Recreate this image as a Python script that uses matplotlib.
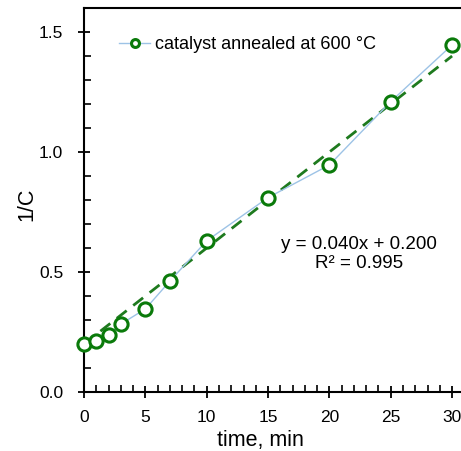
import matplotlib.pyplot as plt
from matplotlib.ticker import MultipleLocator

plt.rcParams['font.family'] = ['Liberation Sans', 'DejaVu Sans']

# measured points
time_min = [0, 1, 2, 3, 5, 7, 10, 15, 20, 25, 30]
inv_c = [0.200, 0.212, 0.237, 0.283, 0.346, 0.462, 0.630, 0.810, 0.946, 1.210, 1.446]

# linear fit shown on the chart
slope = 0.040
intercept = 0.200
fit_x = [0, 30]
fit_y = [slope * x + intercept for x in fit_x]

GREEN = '#0a7a0a'
BLUE = '#9dc3e6'

fig = plt.figure(figsize=(4.61, 4.51), dpi=100)
ax = fig.add_axes([84 / 461, 59 / 451, 400 / 461, 384 / 451])

ax.plot(fit_x, fit_y, color='#1e7a1e', lw=2, ls=(0, (4.5, 3)), zorder=2)
ax.plot(time_min, inv_c, color=BLUE, lw=1, marker='o', ms=9.5,
        mfc='white', mec=GREEN, mew=2.2, zorder=3, clip_on=False,
        label='catalyst annealed at 600 °C')

ax.set_xlim(0, 32.6)
ax.set_ylim(0, 1.6)
ax.xaxis.set_major_locator(MultipleLocator(5))
ax.xaxis.set_minor_locator(MultipleLocator(1))
ax.yaxis.set_major_locator(MultipleLocator(0.5))
ax.yaxis.set_minor_locator(MultipleLocator(0.1))
ax.set_yticks([0, 0.5, 1.0, 1.5])
ax.set_yticklabels(['0.0', '0.5', '1.0', '1.5'])

ax.tick_params(which='major', direction='inout', length=8, width=1.3,
               labelsize=12.5)
ax.tick_params(axis='x', which='major', pad=9)
ax.tick_params(axis='y', which='major', pad=11)
ax.tick_params(which='minor', direction='in', length=5, width=1.2)
for s in ax.spines.values():
    s.set_linewidth(1.5)

ax.set_xlabel('time, min', fontsize=15.5, labelpad=1)
ax.xaxis.set_label_coords(0.44, -0.1)
ax.set_ylabel('1/C', fontsize=15.5)
ax.yaxis.set_label_coords(-0.117, 0.49)

ax.text(0.687, 0.36, 'y = 0.040x + 0.200\nR² = 0.995', transform=ax.transAxes,
        ha='center', va='center', fontsize=13.5, linespacing=1.15)

ax.legend(loc='center left', bbox_to_anchor=(0.07, 0.904), frameon=False,
          fontsize=13, handlelength=1.7, handletextpad=0.3, markerscale=0.6,
          borderaxespad=0)

fig.savefig('out.png', dpi=100)
